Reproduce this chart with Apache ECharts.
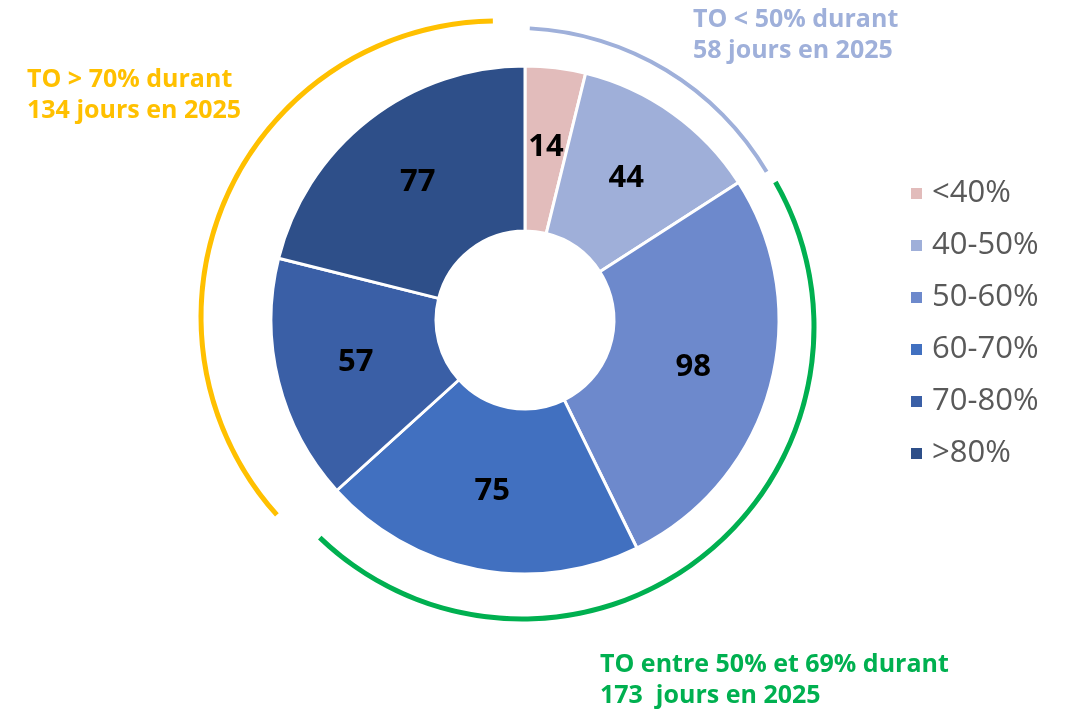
<!DOCTYPE html>
<html>
<head>
<meta charset="utf-8">
<script src="https://cdn.jsdelivr.net/npm/echarts@6/dist/echarts.min.js"></script>
<style>
  html, body { margin: 0; padding: 0; background: #fff; }
  #chart { width: 1074px; height: 712px; }
</style>
</head>
<body>
<div id="chart"></div>
<script>
// tranches de taux d'occupation et nombre de jours
var categories = ['<40%', '40-50%', '50-60%', '60-70%', '70-80%', '>80%'];
var days = [14, 44, 98, 75, 57, 77];
var sliceColors = ['#e2bcbb', '#9fafd9', '#6d89cc', '#4170c0', '#3a5fa6', '#2e4f89'];

// regroupements (arcs extérieurs)
var groupNames = ['TO < 50%', 'TO 50-69%', 'TO > 70%'];
var groupDays = [58, 173, 134];
var groupColors = ['#9fb0da', '#00b050', '#ffc000'];

var myChart = echarts.init(document.getElementById('chart'));
var font = '"Open Sans", Lato, sans-serif';

// un arc = une série pie où seul le groupe visé est coloré
function arcSeries(k, center, radius, startAngle, padAngle) {
    return {
        type: 'pie',
        center: center,
        radius: radius,
        startAngle: startAngle,
        clockwise: true,
        padAngle: padAngle,
        label: { show: false },
        labelLine: { show: false },
        silent: true,
        data: groupNames.map(function (g, i) {
            return { name: g, value: groupDays[i],
                itemStyle: { color: i === k ? groupColors[i] : 'rgba(0,0,0,0)' } };
        })
    };
}

var option = {
    animation: false,
    legend: {
        data: categories,
        orient: 'vertical',
        left: 904,
        top: 173,
        icon: 'rect',
        itemWidth: 13,
        itemHeight: 13,
        itemGap: 21,
        textStyle: { fontSize: 31, color: '#595959', fontFamily: font, padding: [0, 0, 0, 4] }
    },
    graphic: [
        {
            type: 'text', left: 693, top: 4,
            style: { text: 'TO < 50% durant\n58 jours en 2025', fill: '#9fb0da',
                font: 'bold 25px ' + font, lineHeight: 31 }
        },
        {
            type: 'text', left: 27, top: 64,
            style: { text: 'TO > 70% durant\n134 jours en 2025', fill: '#ffc000',
                font: 'bold 25px ' + font, lineHeight: 31 }
        },
        {
            type: 'text', left: 600, top: 649,
            style: { text: 'TO entre 50% et 69% durant\n173  jours en 2025', fill: '#00b050',
                font: 'bold 25px ' + font, lineHeight: 31 }
        }
    ],
    series: [
        {
            type: 'pie',
            center: [525, 320],
            radius: [89, 254],
            startAngle: 90,
            clockwise: true,
            label: {
                show: true,
                position: 'inside',
                formatter: '{c}',
                fontSize: 31,
                fontWeight: 'bold',
                color: '#000',
                fontFamily: font
            },
            labelLine: { show: false },
            itemStyle: { borderColor: '#fff', borderWidth: 3 },
            emphasis: { disabled: true },
            data: categories.map(function (c, i) {
                return { name: c, value: days[i], itemStyle: { color: sliceColors[i] } };
            })
        },
        arcSeries(0, [515, 320], [290, 294], 87.4, 0.6),
        arcSeries(1, [522, 327], [289.5, 294.5], 90.5, 7),
        arcSeries(2, [497, 317], [293.5, 298.5], 90.3, 1)
    ]
};

myChart.setOption(option);
</script>
</body>
</html>
